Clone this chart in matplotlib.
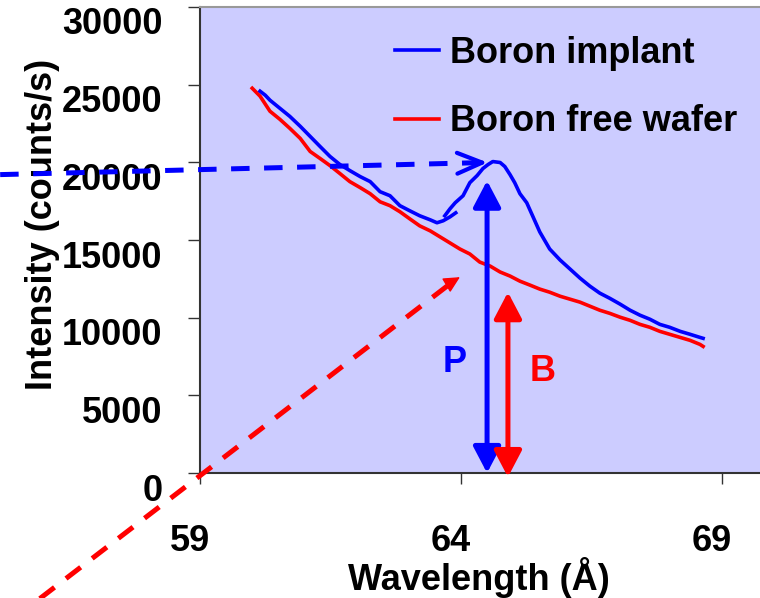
import matplotlib.pyplot as plt
from matplotlib.transforms import ScaledTranslation

plt.rcParams['font.family'] = ['Liberation Sans', 'DejaVu Sans']
plt.rcParams['font.weight'] = 'bold'
plt.rcParams['axes.labelweight'] = 'bold'

# Boron free wafer spectrum
red_x = [60.00, 60.15, 60.34, 60.53, 60.72, 60.92, 61.11, 61.30, 61.49, 61.68,
         61.87, 62.07, 62.26, 62.45, 62.64, 62.83, 63.02, 63.21, 63.41, 63.60,
         63.79, 63.98, 64.17, 64.36, 64.56, 64.75, 64.94, 65.13, 65.32, 65.51,
         65.70, 65.90, 66.09, 66.28, 66.47, 66.66, 66.85, 67.05, 67.24, 67.43,
         67.62, 67.81, 68.00, 68.20, 68.39, 68.58, 68.64]
red_y = [24770, 24260, 23290, 22770, 22190, 21540, 20700, 20250, 19790, 19280,
         18760, 18370, 17980, 17460, 17210, 16820, 16360, 15910, 15590, 15200,
         14810, 14420, 14100, 13580, 13320, 12940, 12680, 12350, 12100, 11840,
         11640, 11380, 11190, 11000, 10740, 10480, 10280, 10030, 9830, 9570,
         9380, 9120, 8930, 8730, 8540, 8280, 8150]

# Boron implant spectrum, two overlapping scans
blue_x1 = [60.15, 60.25, 60.34, 60.53, 60.72, 60.92, 61.11, 61.30, 61.49, 61.68,
           61.87, 62.07, 62.26, 62.45, 62.64, 62.83, 63.02, 63.21, 63.41, 63.54,
           63.66, 63.79, 63.90]
blue_y1 = [24580, 24320, 24000, 23480, 22960, 22320, 21670, 21020, 20380, 19860,
           19470, 19080, 18760, 18110, 17850, 17210, 16880, 16560, 16300, 16110,
           16240, 16490, 16750]
blue_x2 = [63.69, 63.79, 63.89, 64.04, 64.17, 64.31, 64.42, 64.52, 64.61, 64.75,
           64.84, 64.94, 65.03, 65.13, 65.26, 65.38, 65.51, 65.70, 65.90, 66.09,
           66.28, 66.47, 66.66, 66.85, 67.05, 67.24, 67.43, 67.62, 67.81, 68.00,
           68.20, 68.39, 68.58, 68.64]
blue_y2 = [16560, 17010, 17400, 17850, 18690, 19150, 19600, 19860, 20050, 19990,
           19730, 19210, 18690, 17980, 17400, 16500, 15520, 14420, 13710, 13130,
           12550, 12030, 11580, 11250, 10870, 10480, 10160, 9900, 9570, 9380,
           9120, 8930, 8730, 8670]

# annotation anchors (data units)
peak_x, peak_y = 64.51, 19990
blue_dash_start = (55.17, 19210)
red_dash_start, red_dash_end = (55.93, -8085), (63.98, 12610)
p_x, p_top = 64.50, 18820
b_x, b_bottom, b_top = 64.90, -260, 11640

fig = plt.figure(figsize=(7.6, 5.98), dpi=100)
ax = fig.add_axes([0.2632, 0.209, 0.7368, 0.7793])
ax.set_facecolor('#ccccff')

ax.plot(blue_x1, blue_y1, color='#0000ff', lw=2.6, label='Boron implant', zorder=3)
ax.plot(blue_x2, blue_y2, color='#0000ff', lw=2.6, zorder=3)
ax.plot(red_x, red_y, color='#ff0000', lw=2.6, label='Boron free wafer', zorder=2)

ax.set_xlim(59, 69.73)
ax.set_ylim(0, 30000)
ax.set_xticks([59, 64, 69])
ax.set_yticks(range(0, 30001, 5000))

# dashed guide arrows
ax.plot([blue_dash_start[0], peak_x - 0.15], [blue_dash_start[1], peak_y - 10],
        color='#0000ff', lw=3.6, dashes=(3.7, 2.9), clip_on=False, zorder=4)
ax.annotate('', xy=(peak_x, peak_y), xytext=(peak_x - 0.3, peak_y - 25),
            arrowprops=dict(arrowstyle='->,head_length=0.6,head_width=0.25',
                            color='#0000ff', lw=3, mutation_scale=30,
                            shrinkA=0, shrinkB=0), annotation_clip=False, zorder=4)
ax.plot([red_dash_start[0], red_dash_end[0] - 0.1],
        [red_dash_start[1], red_dash_end[1] - 200],
        color='#ff0000', lw=3.6, dashes=(3.7, 2.9), clip_on=False, zorder=4)
ax.annotate('', xy=red_dash_end, xytext=(red_dash_end[0] - 0.2, red_dash_end[1] - 400),
            arrowprops=dict(arrowstyle='-|>,head_length=0.5,head_width=0.25',
                            color='#ff0000', lw=1, mutation_scale=20,
                            shrinkA=0, shrinkB=0), annotation_clip=False, zorder=4)

# P and B double arrows
ax.annotate('', xy=(p_x, 0), xytext=(p_x, p_top),
            arrowprops=dict(arrowstyle='<|-|>,head_length=0.8,head_width=0.42',
                            color='#0000ff', lw=3.6, mutation_scale=20,
                            shrinkA=0, shrinkB=0), annotation_clip=False, zorder=5)
ax.annotate('', xy=(b_x, b_bottom), xytext=(b_x, b_top),
            arrowprops=dict(arrowstyle='<|-|>,head_length=0.8,head_width=0.42',
                            color='#ff0000', lw=3.6, mutation_scale=20,
                            shrinkA=0, shrinkB=0), annotation_clip=False, zorder=5)
ax.text(63.885, 7115, 'P', color='#0000ff', fontsize=26, ha='center', va='center')
ax.text(65.57, 6530, 'B', color='#ff0000', fontsize=26, ha='center', va='center')

# spines and ticks
for side in ['left', 'bottom']:
    ax.spines[side].set_color('#333333')
    ax.spines[side].set_linewidth(1.5)
ax.spines['top'].set_color('#999999')
ax.spines['top'].set_linewidth(1.5)
ax.spines['right'].set_visible(False)
ax.tick_params(axis='y', direction='out', length=8.6, width=1, color='#333333',
               labelsize=26, pad=18.5)
ax.tick_params(axis='x', direction='out', length=8, width=1, color='#333333',
               labelsize=26, pad=28.5)
for lab in ax.get_yticklabels():
    lab.set_transform(lab.get_transform() + ScaledTranslation(0, -0.14, fig.dpi_scale_trans))
for lab in ax.get_xticklabels():
    lab.set_transform(lab.get_transform() + ScaledTranslation(-0.10, 0, fig.dpi_scale_trans))

ax.set_xlabel('Wavelength (Å)', fontsize=26, fontweight='bold')
ax.set_ylabel('Intensity (counts/s)', fontsize=26, fontweight='bold')
ax.xaxis.set_label_coords(0.498, -0.18)
ax.yaxis.set_label_coords(-0.25, 0.534)

ax.legend(loc='upper left', bbox_to_anchor=(395 / 760, 1 - 36 / 598),
          bbox_transform=fig.transFigure, frameon=False, fontsize=26,
          handlelength=1.23, handletextpad=0.3, labelspacing=0.92,
          borderpad=0, borderaxespad=0)

fig.savefig('out.png', dpi=100)
